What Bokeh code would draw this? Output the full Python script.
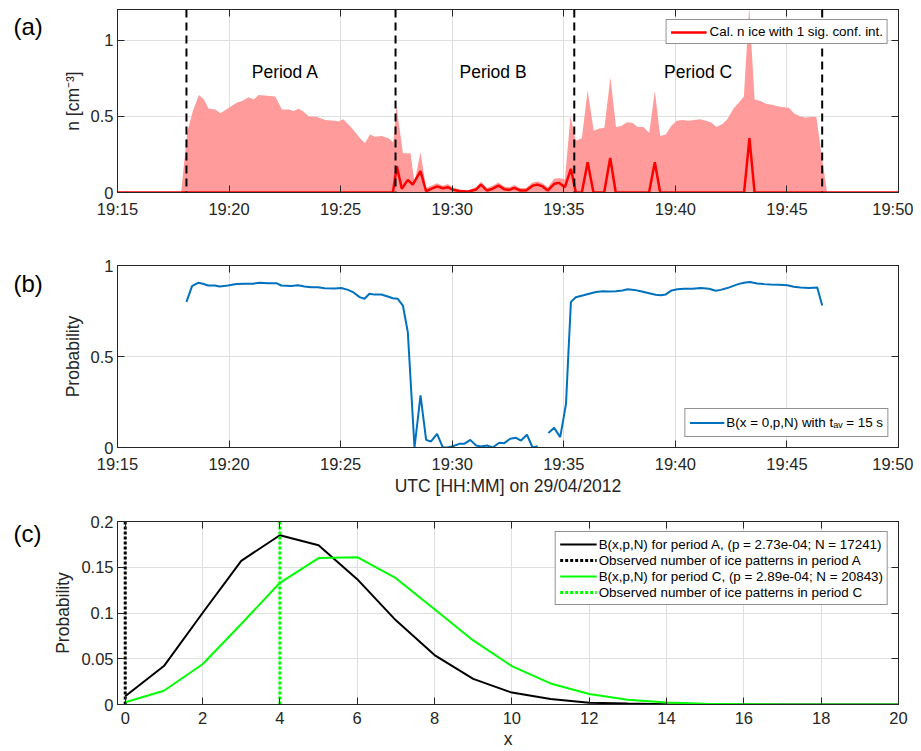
import numpy as np
from bokeh.plotting import figure
from bokeh.models import FixedTicker, LinearAxis, Span, Label, Legend, LegendItem, Range1d
from bokeh.layouts import column, row
from bokeh.embed import file_html
from bokeh.resources import INLINE

# ---------------- data ----------------
# time axis: minutes after 19:00 UTC
time_ticks = [15, 20, 25, 30, 35, 40, 45, 50]
time_labels = ["19:15", "19:20", "19:25", "19:30", "19:35", "19:40", "19:45", "19:50"]
period_bounds = [18.09, 27.46, 35.47, 46.58]
period_names = ["Period A", "Period B", "Period C"]

# panel (a): upper 1-sigma bound of calculated ice number concentration
band_t = [15.0, 17.85, 18.13, 18.38, 18.65, 18.87, 19.09, 19.39, 19.61, 19.99,
          20.36, 20.58, 20.88, 21.10, 21.33, 21.70, 22.07, 22.37, 22.67, 22.89,
          23.12, 23.34, 23.57, 23.94, 24.31, 24.75, 24.90, 25.12, 25.49, 25.87,
          26.09, 26.32, 26.54, 26.84, 27.14, 27.36, 27.50, 27.79, 28.13, 28.31,
          28.58, 28.83, 29.05, 29.32, 29.58, 29.80, 30.02, 30.32, 30.70, 31.07,
          31.29, 31.56, 31.81, 32.07, 32.33, 32.56, 32.78, 33.05, 33.31, 33.60,
          33.83, 34.05, 34.28, 34.57, 34.80, 35.05, 35.30, 35.54, 35.81, 36.07,
          36.34, 36.59, 36.82, 37.09, 37.34, 37.56, 37.83, 38.08, 38.31, 38.57,
          38.83, 39.08, 39.32, 39.57, 39.83, 40.07, 40.32, 40.57, 40.84, 41.11,
          41.36, 41.59, 41.84, 42.11, 42.33, 42.60, 42.85, 43.07, 43.31, 43.55,
          43.82, 44.09, 44.34, 44.56, 44.79, 45.09, 45.31, 45.58, 45.83, 46.05,
          46.32, 46.57, 46.80, 50.0]
band_n = [0, 0, 0.40, 0.536, 0.64, 0.61, 0.55, 0.545, 0.52, 0.555,
          0.59, 0.60, 0.625, 0.61, 0.64, 0.635, 0.63, 0.545, 0.545, 0.535,
          0.55, 0.53, 0.50, 0.495, 0.475, 0.47, 0.465, 0.48, 0.425, 0.355,
          0.325, 0.38, 0.365, 0.37, 0.355, 0.33, 0.57, 0.257, 0.257, 0.067,
          0.264, 0.03, 0.045, 0.06, 0.045, 0.055, 0.035, 0.02, 0.015, 0.035,
          0.07, 0.03, 0.045, 0.065, 0.04, 0.035, 0.05, 0.03, 0.03, 0.065,
          0.072, 0.06, 0.035, 0.09, 0.095, 0.085, 0.50, 0.34, 0.355, 0.67,
          0.405, 0.42, 0.425, 0.754, 0.43, 0.435, 0.46, 0.455, 0.43, 0.43,
          0.39, 0.665, 0.37, 0.38, 0.44, 0.47, 0.475, 0.47, 0.475, 0.48,
          0.47, 0.46, 0.43, 0.45, 0.48, 0.55, 0.59, 0.63, 1.22, 0.61,
          0.60, 0.58, 0.575, 0.565, 0.56, 0.555, 0.52, 0.50, 0.49, 0.495,
          0.495, 0.23, 0, 0]

# panel (a): calculated ice number concentration n [cm^-3]
n_t = [15.0, 27.34, 27.52, 27.74, 28.01, 28.23, 28.58, 28.83, 29.05, 29.32,
       29.58, 29.80, 30.02, 30.32, 30.70, 31.07, 31.29, 31.56, 31.81, 32.07,
       32.33, 32.56, 32.78, 33.05, 33.31, 33.60, 33.83, 34.05, 34.28, 34.57,
       34.80, 35.05, 35.32, 35.54, 35.81, 36.07, 36.33, 36.81, 37.08, 37.33,
       38.82, 39.08, 39.32, 43.08, 43.32, 43.55, 50.0]
n_ice = [0, 0, 0.172, 0.024, 0.083, 0.052, 0.14, 0.008, 0.024, 0.04,
         0.028, 0.035, 0.018, 0.01, 0.005, 0.02, 0.052, 0.013, 0.025, 0.045,
         0.022, 0.017, 0.03, 0.013, 0.013, 0.045, 0.052, 0.04, 0.013, 0.057,
         0.063, 0.035, 0.155, 0, 0, 0.198, 0, 0, 0.227, 0,
         0, 0.198, 0, 0, 0.357, 0, 0]

# panel (b): B(x=0,p,N) with t_av = 15 s  (nan = gap)
prob_t = [18.09, 18.34, 18.61, 18.83, 19.06, 19.36, 19.58, 19.95, 20.33, 20.70,
          21.07, 21.37, 21.74, 22.12, 22.34, 22.79, 23.09, 23.38, 23.68, 23.98,
          24.28, 24.73, 25.03, 25.33, 25.55, 25.85, 26.07, 26.29, 26.52, 26.82,
          27.11, 27.34, 27.56, 27.79, 28.01, 28.31, 28.58, 28.83, 29.05, 29.32,
          29.58, 29.80, 30.02, 30.32, 30.54, 30.81, 31.07, 31.29, 31.56, 31.81,
          32.11, 32.33, 32.60, 32.86, 33.08, 33.35, 33.60, 33.83, 34.07, 34.31,
          34.57, 34.84, 35.10, 35.20, 35.32, 35.54, 35.84, 36.14, 36.44, 36.74,
          37.03, 37.33, 37.63, 37.86, 38.15, 38.45, 38.82, 39.12, 39.35, 39.57,
          39.83, 40.09, 40.39, 40.77, 41.14, 41.51, 41.81, 42.03, 42.33, 42.60,
          42.85, 43.08, 43.34, 43.67, 43.97, 44.27, 44.64, 45.02, 45.31, 45.61,
          45.98, 46.36, 46.58]
prob = [0.80, 0.887, 0.905, 0.90, 0.89, 0.89, 0.885, 0.89, 0.898, 0.90,
        0.90, 0.905, 0.903, 0.903, 0.89, 0.888, 0.892, 0.885, 0.88, 0.88,
        0.875, 0.874, 0.876, 0.866, 0.854, 0.826, 0.817, 0.845, 0.84, 0.841,
        0.83, 0.82, 0.817, 0.78, 0.634, 0.0, 0.286, 0.042, 0.033, 0.075,
        0.0, 0.0, 0.007, 0.02, 0.02, 0.042, 0.011, 0.005, 0.011, 0.0,
        0.026, 0.024, 0.048, 0.053, 0.038, 0.07, 0.0, 0.007, float("nan"), 0.08,
        0.108, 0.057, 0.24, 0.50, 0.80, 0.826, 0.835, 0.845, 0.854, 0.859,
        0.857, 0.859, 0.863, 0.87, 0.866, 0.859, 0.848, 0.839, 0.837, 0.841,
        0.863, 0.87, 0.872, 0.872, 0.876, 0.872, 0.861, 0.866, 0.876, 0.888,
        0.899, 0.905, 0.909, 0.901, 0.898, 0.896, 0.894, 0.892, 0.883, 0.879,
        0.877, 0.879, 0.78]

# panel (c): binomial distributions
x_vals = list(range(21))
B_A = [0.009, 0.042, 0.100, 0.157, 0.185, 0.174, 0.137, 0.092, 0.054, 0.028,
       0.013, 0.006, 0.002, 0.001, 0.0003, 0.0001, 0, 0, 0, 0, 0]
B_C = [0.0024, 0.015, 0.044, 0.088, 0.133, 0.160, 0.161, 0.138, 0.104, 0.070,
       0.042, 0.023, 0.0115, 0.0053, 0.0023, 0.0009, 0.0004, 0.0001, 0, 0, 0]
obs_A = 0
obs_C = 4
c_xticks = list(range(0, 21, 2))
c_yticks = [0, 0.05, 0.1, 0.15, 0.2]
c_ylabels = ["0", "0.05", "0.1", "0.15", "0.2"]
ab_yticks = [0, 0.5, 1]
ab_ylabels = ["0", "0.5", "1"]
panel_letters = ["(a)", "(b)", "(c)"]

# ---------------- styling ----------------
FONT = "Liberation Sans"
INK = "#262626"
GRID = "#dfdfdf"
STRIP = 50            # width of the left strip holding the panel letters
FRAME_W = 782
LEFT = 116 - STRIP
RIGHT = 15
W = LEFT + FRAME_W + RIGHT
TICK_FS = "16.5px"
LABEL_FS = "17.5px"
HEIGHTS = [240, 260, 251]


def base_fig(height, top, bottom, xr, yr):
    p = figure(width=W, height=height, x_range=Range1d(*xr), y_range=Range1d(*yr),
               output_backend="svg", toolbar_location=None,
               min_border_left=LEFT, min_border_right=RIGHT,
               min_border_top=top, min_border_bottom=bottom)
    p.outline_line_color = INK
    p.outline_line_width = 1
    p.background_fill_color = "white"
    p.border_fill_color = "white"
    return p


def style_axes(p, xticks, xlabels, yticks, ylabels, xlabel=None, ylabel=None,
               xlabel_standoff=0):
    xt = FixedTicker(ticks=xticks)
    yt = FixedTicker(ticks=yticks)
    xo = {t: l for t, l in zip(xticks, xlabels)}
    yo = {t: l for t, l in zip(yticks, ylabels)}
    bottom_ax = p.below[0]
    left_ax = p.left[0]
    for ax, tk, ov in ((bottom_ax, xt, xo), (left_ax, yt, yo)):
        ax.ticker = tk
        ax.major_label_overrides = ov
        ax.major_label_text_font = FONT
        ax.major_label_text_font_size = TICK_FS
        ax.major_label_text_color = INK
        ax.axis_line_color = INK
        ax.major_tick_line_color = INK
        ax.major_tick_in = 7
        ax.major_tick_out = 0
        ax.minor_tick_line_color = None
        ax.axis_label_text_font = FONT
        ax.axis_label_text_font_size = LABEL_FS
        ax.axis_label_text_font_style = "normal"
        ax.axis_label_text_color = INK
    bottom_ax.major_label_standoff = 7
    bottom_ax.axis_label_standoff = xlabel_standoff
    left_ax.major_label_standoff = 4
    left_ax.axis_label_standoff = 5
    if xlabel:
        bottom_ax.axis_label = xlabel
    if ylabel:
        left_ax.axis_label = ylabel
    p.xgrid.ticker = xt
    p.ygrid.ticker = yt
    p.grid.grid_line_color = GRID
    p.grid.grid_line_width = 1
    for place, tk in (("right", yt), ("above", xt)):
        ax = LinearAxis(ticker=tk, major_label_text_font_size="0px",
                        major_label_text_color=None, major_label_standoff=0,
                        axis_line_color=INK, major_tick_line_color=INK,
                        major_tick_in=7, major_tick_out=0, minor_tick_line_color=None)
        p.add_layout(ax, place)


def make_legend(items, location, glyph_w, row_h, standoff):
    return Legend(items=items, location=location, margin=10, padding=4, spacing=0,
                  glyph_width=glyph_w, glyph_height=row_h, label_height=row_h,
                  label_standoff=standoff, label_text_font=FONT,
                  label_text_font_size="13.4px", label_text_color="black",
                  label_text_baseline="middle",
                  border_line_color=INK, border_line_width=1,
                  background_fill_color="white", background_fill_alpha=1)


# ---------------- panel (a) ----------------
xa, ya = (15, 50), (0, 1.2)
pa = base_fig(HEIGHTS[0], 9, 48, xa, ya)
style_axes(pa, time_ticks, time_labels, ab_yticks, ab_ylabels, ylabel="n [cm\u207b\u00b3]")
pa.varea(x=band_t, y1=0, y2=band_n, fill_color="#ff9b9b", fill_alpha=1)
r_n = pa.line(n_t, n_ice, line_color="#ff0000", line_width=2.5)
for t in period_bounds:
    pa.add_layout(Span(location=t, dimension="height", line_color="black",
                       line_width=2, line_dash="8 5"))
for name, tx in zip(period_names, [22.52, 31.83, 41.02]):
    pa.add_layout(Label(x=tx, y=0.79, text=name, text_font=FONT, text_font_size="17.5px",
                        text_align="center", text_baseline="middle", text_color="black"))
pa.add_layout(make_legend([LegendItem(label="Cal. n ice with 1 sig. conf. int.",
                                      renderers=[r_n])], "top_right", 36, 14, 3))

# ---------------- panel (b) ----------------
xb, yb = (15, 50), (0, 1)
pb = base_fig(HEIGHTS[1], 25, 53, xb, yb)
style_axes(pb, time_ticks, time_labels, ab_yticks, ab_ylabels,
           xlabel="UTC [HH:MM] on 29/04/2012", ylabel="Probability")
r_p = pb.line(prob_t, np.array(prob, dtype=float), line_color="#0072bd", line_width=2)
pb.add_layout(make_legend([LegendItem(label="B(x = 0,p,N) with t\u2090\u1d65 = 15 s",
                                      renderers=[r_p])], "bottom_right", 35, 19, 2))

# ---------------- panel (c) ----------------
xc, yc = (-0.2, 20), (0, 0.2)
pc = base_fig(HEIGHTS[2], 21, 47, xc, yc)
style_axes(pc, c_xticks, [str(v) for v in c_xticks], c_yticks, c_ylabels,
           xlabel="x", ylabel="Probability", xlabel_standoff=2)
r_a = pc.line(x_vals, B_A, line_color="black", line_width=2)
r_oa = pc.line([obs_A, obs_A], [yc[0], yc[1]], line_color="black", line_width=3,
               line_dash="3 2")
r_c = pc.line(x_vals, B_C, line_color="#00ff00", line_width=2)
r_oc = pc.line([obs_C, obs_C], [yc[0], yc[1]], line_color="#00ff00", line_width=3,
               line_dash="3 2")
pc.add_layout(make_legend([
    LegendItem(label="B(x,p,N) for period A, (p = 2.73e-04; N = 17241)", renderers=[r_a]),
    LegendItem(label="Observed number of ice patterns in period A", renderers=[r_oa]),
    LegendItem(label="B(x,p,N) for period C, (p = 2.89e-04; N = 20843)", renderers=[r_c]),
    LegendItem(label="Observed number of ice patterns in period C", renderers=[r_oc]),
], "top_right", 37, 16, 2))

# ---------------- strip with panel letters (pixel coordinates, y downwards) ----------------
total_h = sum(HEIGHTS)
strip = figure(width=STRIP, height=total_h, x_range=Range1d(0, STRIP),
               y_range=Range1d(total_h, 0), output_backend="svg", toolbar_location=None,
               x_axis_type=None, y_axis_type=None, min_border=0)
strip.outline_line_color = None
strip.background_fill_color = "white"
strip.border_fill_color = "white"
strip.grid.visible = False
letter_y = [26, HEIGHTS[0] + 42.5, HEIGHTS[0] + HEIGHTS[1] + 33]
for txt, ly in zip(panel_letters, letter_y):
    strip.add_layout(Label(x=13, y=ly, text=txt, text_font=FONT, text_font_size="24px",
                           text_align="left", text_baseline="middle", text_color="black"))

layout = row(strip, column(pa, pb, pc, spacing=0), spacing=0)
open("out.html", "w").write(file_html(layout, INLINE))
